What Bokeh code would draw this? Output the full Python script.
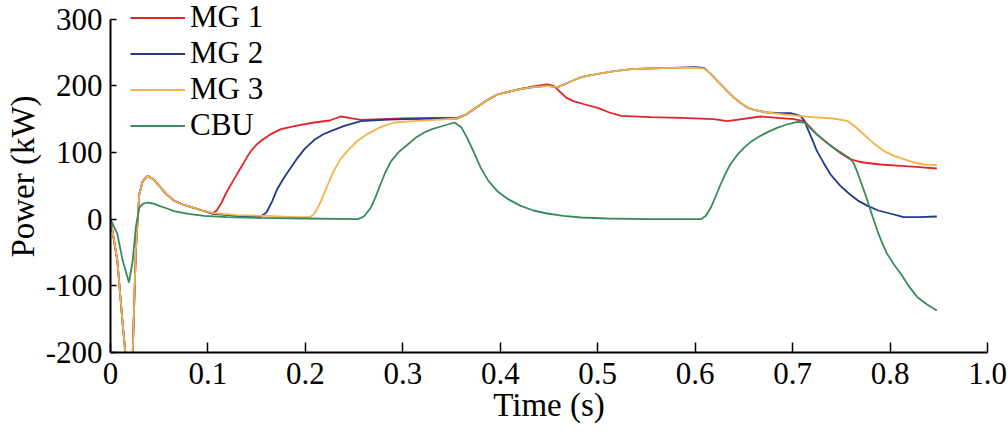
from bokeh.plotting import figure
from bokeh.models import Range1d, Legend, LegendItem, FixedTicker
from bokeh.embed import file_html
from bokeh.resources import INLINE

# ---- data ----
t_mg1 = [0, 0.007, 0.0125, 0.019, 0.0228, 0.026, 0.0295, 0.033, 0.038, 0.044, 0.05, 0.057, 0.065,
         0.074, 0.083, 0.094, 0.105, 0.109, 0.114, 0.119, 0.124, 0.13, 0.135, 0.14, 0.144, 0.15,
         0.155, 0.165, 0.175, 0.19, 0.209, 0.225, 0.236, 0.245, 0.257, 0.3, 0.33, 0.356,
         0.365, 0.375, 0.386, 0.397, 0.408, 0.42, 0.434, 0.448, 0.455, 0.462, 0.468, 0.475,
         0.487, 0.5, 0.512, 0.524, 0.554, 0.585, 0.619, 0.633, 0.667, 0.701, 0.712, 0.718,
         0.725, 0.733, 0.742, 0.75, 0.759, 0.766, 0.773, 0.79, 0.811, 0.83, 0.848]
p_mg1 = [0, -62, -157, -260, -200, -47, 37, 57, 65, 60, 50, 38, 28,
         22, 18, 13, 9, 13, 25, 40, 53, 68, 80, 93, 102, 112,
         118, 128, 135, 140, 145, 148, 154, 152, 149, 151, 152, 152,
         157, 167, 178, 187, 191, 195, 199, 202, 200, 190, 182, 177,
         172, 167, 160, 155, 153, 152, 150, 147, 154, 150, 147, 138,
         127, 117, 107, 98, 90, 87, 85, 82, 80, 78, 76]

t_mg2 = [0, 0.007, 0.0125, 0.019, 0.0228, 0.026, 0.0295, 0.033, 0.038, 0.044, 0.05, 0.057, 0.065,
         0.074, 0.083, 0.094, 0.105, 0.13, 0.153, 0.16, 0.166, 0.171, 0.178, 0.185, 0.192, 0.199,
         0.21, 0.218, 0.226, 0.24, 0.257, 0.28, 0.3, 0.356,
         0.365, 0.375, 0.386, 0.397, 0.408, 0.42, 0.434, 0.448, 0.459, 0.47, 0.483, 0.5, 0.517,
         0.535, 0.551, 0.575, 0.6, 0.609, 0.616, 0.623, 0.631, 0.64, 0.647, 0.654, 0.663, 0.674,
         0.686, 0.698, 0.708, 0.712, 0.715, 0.72, 0.725, 0.732, 0.739, 0.749, 0.759, 0.768,
         0.777, 0.788, 0.8, 0.814, 0.83, 0.848]
p_mg2 = [0, -62, -157, -260, -200, -47, 37, 57, 65, 60, 50, 38, 28,
         22, 18, 13, 8, 5, 3, 10, 27, 45, 62, 77, 92, 105,
         120, 127, 132, 140, 147, 149, 150, 151,
         157, 167, 178, 187, 191, 195, 198, 200, 198, 205, 213, 218, 222,
         225, 226, 227, 228, 227, 218, 207, 195, 182, 174, 167, 163, 160,
         159, 159, 155, 148, 137, 120, 102, 84, 67, 50, 37, 27,
         20, 13, 8.5, 3, 3, 4]

t_mg3 = [0, 0.007, 0.0125, 0.019, 0.0228, 0.026, 0.0295, 0.033, 0.038, 0.044, 0.05, 0.057, 0.065,
         0.074, 0.083, 0.094, 0.105, 0.13, 0.16, 0.19, 0.205, 0.209, 0.212, 0.216, 0.219, 0.224,
         0.229, 0.236, 0.243, 0.253, 0.264, 0.277, 0.291, 0.31, 0.329, 0.356,
         0.365, 0.375, 0.386, 0.397, 0.408, 0.42, 0.434, 0.448, 0.459, 0.47, 0.483, 0.5, 0.517,
         0.535, 0.551, 0.575, 0.6, 0.609, 0.616, 0.623, 0.631, 0.64, 0.647, 0.654, 0.663, 0.674,
         0.686, 0.698, 0.72, 0.742, 0.756, 0.764, 0.773, 0.783, 0.794, 0.804, 0.814, 0.825,
         0.835, 0.848]
p_mg3 = [0, -62, -157, -260, -200, -47, 37, 57, 65, 60, 50, 38, 28,
         22, 18, 13, 9, 6, 5, 3, 3, 8, 15, 27, 38, 55,
         72, 90, 102, 117, 128, 138, 145, 147, 148.5, 151,
         157, 167, 178, 187, 191, 195, 198, 200, 198, 205, 213, 218, 222,
         225, 226, 227, 227, 226, 218, 207, 195, 182, 174, 167, 163, 160,
         158, 156, 153, 151, 147.5, 139, 127, 114, 102, 95, 90, 85,
         82, 81]

t_cbu = [0, 0.007, 0.0125, 0.019, 0.0228, 0.026, 0.0295, 0.033, 0.038, 0.045, 0.05, 0.058, 0.065,
         0.08, 0.096, 0.12, 0.15, 0.2, 0.254, 0.26, 0.267, 0.272, 0.277, 0.282, 0.288, 0.296,
         0.305, 0.313, 0.322, 0.33, 0.339, 0.346, 0.353, 0.36, 0.366, 0.373, 0.38, 0.388,
         0.397, 0.408, 0.421, 0.434, 0.448, 0.465, 0.483, 0.51, 0.551, 0.606, 0.611, 0.616,
         0.621, 0.626, 0.631, 0.636, 0.643, 0.65, 0.658, 0.667, 0.675, 0.684, 0.694, 0.705,
         0.712, 0.725, 0.742, 0.759, 0.763, 0.766, 0.771, 0.777, 0.782, 0.787, 0.792, 0.797,
         0.804, 0.811, 0.819, 0.828, 0.838, 0.848]
p_cbu = [0, -22, -62, -95, -62, -12, 17, 23, 25, 23, 20, 16, 12,
         8, 5, 3, 2, 1, 0, 4, 17, 33, 52, 70, 87, 101,
         112, 122, 130, 135, 139, 142, 145, 138, 122, 100, 77, 57,
         42, 30, 20, 13, 8.5, 5, 2.5, 1, 0, 0, 5, 17,
         34, 52, 68, 82, 96, 107, 117, 125, 131, 137, 142, 146,
         145, 127, 107, 91, 83, 72, 52, 27, 4, -17.5, -36, -52,
         -68, -82, -100, -117, -128, -137]

series_names = ["MG 1", "MG 2", "MG 3", "CBU"]
series_colors = ["#e3232a", "#22398c", "#f5b247", "#3a8a5c"]

x_ticks = [0, 0.1, 0.2, 0.3, 0.4, 0.5, 0.6, 0.7, 0.8, 0.9]
x_tick_labels = ["0", "0.1", "0.2", "0.3", "0.4", "0.5", "0.6", "0.7", "0.8", "1.0"]
y_ticks = [-200, -100, 0, 100, 200, 300]
y_tick_labels = ["-200", "-100", "0", "100", "200", "300"]

FONT = "Liberation Serif"

# the frame reaches the top of the page so that the legend (which sits partly above
# the 300 tick in the reference) is not clipped; the y axis line stops at 300.
p = figure(width=1008, height=432, output_backend="svg", toolbar_location=None,
           x_range=Range1d(0, 0.9), y_range=Range1d(-200, 328),
           min_border_left=110, min_border_right=21, min_border_top=0, min_border_bottom=80)
p.outline_line_color = None
p.xgrid.visible = False
p.ygrid.visible = False
p.background_fill_color = "white"
p.border_fill_color = "white"

renderers = []
for tt, pp, c in zip([t_mg1, t_mg2, t_mg3, t_cbu], [p_mg1, p_mg2, p_mg3, p_cbu], series_colors):
    r = p.line(tt, pp, line_color=c, line_width=1.8)
    renderers.append(r)

# axes
p.xaxis.ticker = FixedTicker(ticks=x_ticks)
p.xaxis.major_label_overrides = {x: l for x, l in zip(x_ticks, x_tick_labels)}
p.yaxis.ticker = FixedTicker(ticks=y_ticks)
p.yaxis.major_label_overrides = {y: l for y, l in zip(y_ticks, y_tick_labels)}
p.yaxis.bounds = (-200, 300)
for ax in (p.xaxis, p.yaxis):
    ax.axis_line_color = "black"
    ax.axis_line_width = 2
    ax.major_tick_line_color = "black"
    ax.major_tick_line_width = 1.5
    ax.major_tick_out = 0
    ax.minor_tick_line_color = None
    ax.major_label_text_font = FONT
    ax.major_label_text_font_size = "31px"
    ax.major_label_text_color = "black"
    ax.axis_label_text_font = FONT
    ax.axis_label_text_font_size = "33px"
    ax.axis_label_text_font_style = "normal"
    ax.axis_label_text_color = "black"
p.xaxis.major_tick_in = 10
p.yaxis.major_tick_in = 6
p.xaxis.major_label_standoff = 10
p.yaxis.major_label_standoff = 8
p.xaxis.axis_label = "Time (s)"
p.yaxis.axis_label = "Power (kW)"
p.xaxis.axis_label_standoff = 0
p.yaxis.axis_label_standoff = 2

legend = Legend(items=[LegendItem(label=n, renderers=[r]) for n, r in zip(series_names, renderers)],
                location=(20, 209), orientation="vertical",
                border_line_color=None, background_fill_alpha=0,
                label_text_font=FONT, label_text_font_size="31px", label_text_color="black",
                label_standoff=5, glyph_width=55, glyph_height=33, label_height=33,
                spacing=-3, padding=0, margin=0)
p.add_layout(legend)

open("out.html", "w").write(file_html(p, INLINE))
